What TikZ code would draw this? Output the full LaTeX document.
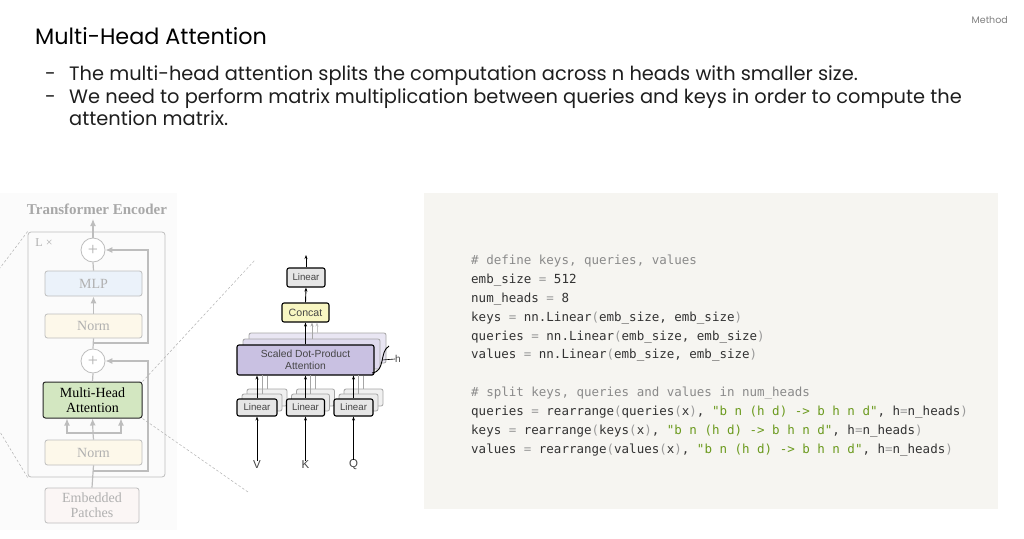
\documentclass[tikz,border=0pt]{standalone}
\usepackage{fontspec}
\usetikzlibrary{arrows.meta,calc}
\newfontfamily\pop{Poppins}
\newfontfamily\codefont{DejaVu Sans Mono}
\newfontfamily\serf{Liberation Serif}
\newfontfamily\helv{Liberation Sans}
\definecolor{encline}{HTML}{BDBDBD}
\definecolor{enctext}{HTML}{B0B0B0}
\definecolor{enctitle}{HTML}{A8A8A8}
\definecolor{encbg}{HTML}{FBFBFB}
\definecolor{mlpfill}{HTML}{EBF2FA}
\definecolor{normfill}{HTML}{FDF8EA}
\definecolor{embfill}{HTML}{FBF6F5}
\definecolor{mhafill}{HTML}{D3E7C1}
\definecolor{codebg}{HTML}{F6F5F1}
\definecolor{codetxt}{HTML}{333333}
\definecolor{codecom}{HTML}{8A8A8A}
\definecolor{codeop}{HTML}{9A9A9A}
\definecolor{codestr}{HTML}{6B9A1E}
\definecolor{linfill}{HTML}{E6E6E6}
\definecolor{concatfill}{HTML}{F8F6C2}
\definecolor{attnfill}{HTML}{C9C1E2}
\definecolor{midtxt}{HTML}{454545}
\definecolor{slidetxt}{HTML}{1E1E1E}
\newcommand\opc[1]{\textcolor{codeop}{#1}}
\newcommand\strc[1]{\textcolor{codestr}{#1}}
\tikzset{
  encbox/.style={draw=encline, line width=0.8pt, rounded corners=2.5pt, font=\serf\fontsize{14}{15}\selectfont, text=enctext, align=center, inner sep=0pt},
  encplus/.style={draw=encline, line width=0.8pt, circle, fill=white, minimum size=24pt, inner sep=0pt, font=\serf\fontsize{18}{18}\selectfont, text=enctext},
  encln/.style={draw=encline, line width=1.2pt},
  encarrow/.style={draw=encline, line width=1.2pt, -{Latex[length=7pt,width=6pt]}},
  zoomline/.style={draw=gray!60, line width=0.5pt, dash pattern=on 2.5pt off 2pt},
  midbox/.style={draw=black, line width=1.1pt, rounded corners=2pt, font=\helv\fontsize{10.3}{11.5}\selectfont, text=midtxt, align=center, inner sep=0pt},
  linfont/.style={font=\helv\fontsize{9.7}{10}\selectfont},
  midback/.style={draw=gray!70, line width=0.8pt, rounded corners=2pt, fill=white, inner sep=0pt},
  marrow/.style={draw=black, line width=0.9pt, -{Stealth[length=4pt,width=3pt]}},
  garrow/.style={draw=gray!70, line width=0.9pt, -{Stealth[length=4pt,width=3pt]}},
  gline/.style={draw=gray!70, line width=0.9pt},
  codeline/.style={anchor=base west, inner sep=0pt, font=\codefont\fontsize{12.5}{15}\selectfont, text=codetxt},
  bullettxt/.style={anchor=base west, inner sep=0pt, font=\pop\fontsize{19.4}{22}\selectfont, text=slidetxt},
}
\begin{document}
\begin{tikzpicture}[x=1pt,y=-1pt]
\useasboundingbox (0,0) rectangle (1024,538);
\fill[white] (0,0) rectangle (1024,538);
% ---------- header ----------
\node[anchor=base east, inner sep=0pt, font=\pop\fontsize{9.5}{10}\selectfont, text=gray] (method) at (1008,23) {Method};
\node[anchor=base west, inner sep=0pt, font=\pop\fontsize{22.3}{24}\selectfont, text=black] (title) at (35,44) {Multi-Head Attention};
\node[bullettxt] (d1) at (45,80) {-};
\node[bullettxt] (b1) at (69,80) {The multi-head attention splits the computation across n heads with smaller size.};
\node[bullettxt] (d2) at (45,103) {-};
\node[bullettxt] (b2) at (69,103) {We need to perform matrix multiplication between queries and keys in order to compute the};
\node[bullettxt] (b3) at (69,125) {attention matrix.};
% ---------- encoder ----------
\fill[encbg] (0,193) rectangle (177,530);
\node[font=\serf\bfseries\fontsize{15}{16}\selectfont, text=enctitle, inner sep=0pt] (enctitle) at (97,209) {Transformer Encoder};
\node[draw=encline, line width=0.8pt, rounded corners=3pt, fill=encbg, minimum width=137pt, minimum height=245pt, inner sep=0pt] (outer) at (96.5,354.5) {};
\node[font=\serf\fontsize{12}{12}\selectfont, text=enctext, inner sep=0pt] (lx) at (44,243) {L ×};
\node[encplus] (plus1) at (93,250) {+};
\node[encbox, fill=mlpfill, minimum width=97pt, minimum height=25pt] (mlp) at (93.5,283.5) {MLP};
\node[encbox, fill=normfill, minimum width=97pt, minimum height=24pt] (norm1) at (93.5,326) {Norm};
\node[encplus] (plus2) at (93,361) {+};
\node[encbox, fill=mhafill, draw=black!85, line width=1pt, text=black, minimum width=99pt, minimum height=36pt] (mha) at (92.5,400) {Multi-Head\\Attention};
\node[encbox, fill=normfill, minimum width=97pt, minimum height=25pt] (norm2) at (93.5,452.5) {Norm};
\node[encbox, fill=embfill, minimum width=94pt, minimum height=35pt] (emb) at (92,505.5) {Embedded\\Patches};
\coordinate (outtop) at (93,219);
\draw[encarrow] (plus1.north) -- (outtop);
\draw[encln] (mlp.north) -- (plus1.south);
\draw[encarrow] (norm1.north) -- (mlp.south);
\draw[encln] (plus2.north) -- (norm1.south);
\draw[encln] (mha.north) -- (plus2.south);
\draw[encln] (emb.north) -- (norm2.south);
\coordinate (r1) at (93,343);
\coordinate (r1b) at (148,343);
\coordinate (r1c) at (148,250);
\draw[encarrow] (r1) -- (r1b) -- (r1c) -- (plus1.east);
\coordinate (r2) at (93,471);
\coordinate (r2b) at (148,471);
\coordinate (r2c) at (148,361);
\draw[encarrow] (r2) -- (r2b) -- (r2c) -- (plus2.east);
\coordinate (split) at (93,433);
\coordinate (splitl) at (67,433);
\coordinate (splitr) at (121,433);
\draw[encln] (norm2.north) -- (split);
\draw[encarrow] (split) -- (mha.south);
\draw[encarrow] (split) -- (splitl) -- (splitl |- mha.south);
\draw[encarrow] (split) -- (splitr) -- (splitr |- mha.south);
% zoom lines
\coordinate (zl1) at (0,268);
\coordinate (zl2) at (0,432);
\coordinate (zr1) at (255,260);
\coordinate (zr2) at (248,492);
\draw[zoomline] (outer.north west) -- (zl1);
\draw[zoomline] (outer.south west) -- (zl2);
\draw[zoomline] (mha.north east) -- (zr1);
\draw[zoomline] (mha.south east) -- (zr2);
% ---------- multi-head diagram ----------
\node[midbox, linfont, fill=linfill, minimum width=38pt, minimum height=19pt] (lintop) at (306,277.5) {Linear};
\node[midbox, fill=concatfill, minimum width=47pt, minimum height=19pt, font=\helv\fontsize{10.6}{11}\selectfont] (concat) at (305.5,312.5) {Concat};
\node[midback, fill=attnfill!40, minimum width=137pt, minimum height=30pt] (attnb2) at (317.5,348) {};
\node[midback, fill=attnfill!60, minimum width=137pt, minimum height=30pt] (attnb1) at (311.5,354) {};
\node[midbox, fill=attnfill, minimum width=137pt, minimum height=30pt] (attn) at (305.5,360) {Scaled Dot-Product\\Attention};
\coordinate (a2) at (317,333);
\coordinate (a1) at (312,339);
\draw[garrow, draw=gray!45] (a2) -- (a2 |- concat.south);
\draw[garrow] (a1) -- (a1 |- concat.south);
\draw[marrow] (attn.north) -- (concat.south);
\draw[marrow] (concat.north) -- (lintop.south);
\coordinate (mhout) at (306,255);
\draw[marrow] (lintop.north) -- (mhout);
% h brace
\draw[black, line width=0.9pt] (372,373) .. controls (386,371) and (379,352) .. (389,346);
\coordinate (hb) at (382,360);
\node[font=\helv\fontsize{10}{10}\selectfont, text=midtxt, inner sep=0pt] (hlbl) at (398,359) {h};
\draw[black, line width=0.6pt] (hb) -- (hlbl.west);
% three linear stacks
\foreach \nm/\cx/\w/\lb in {V/257/40/V, K/305.5/38/K, Q/353.5/39/Q}{
  \node[midback, fill=linfill!60, minimum width=\w pt, minimum height=17pt] (lin\nm b2) at (\cx+10,397.5) {};
  \node[midback, fill=linfill!80, minimum width=\w pt, minimum height=17pt] (lin\nm b1) at (\cx+5,402.5) {};
  \node[midbox, linfont, fill=linfill, minimum width=\w pt, minimum height=17pt] (lin\nm) at (\cx,407.5) {Linear};
  \node[font=\helv\fontsize{11.5}{12}\selectfont, text=midtxt, inner sep=0pt] (lbl\nm) at (\cx,465) {\lb};
  \draw[gline] (lin\nm b2.north) -- ++(0,-13);
  \draw[gline] (lin\nm b1.north) -- ++(0,-18.5);
  \draw[marrow] (lin\nm.north) -- (lin\nm.north |- attn.south);
  \draw[marrow] (lbl\nm.north) -- (lin\nm.south);
}
% ---------- code panel ----------
\fill[codebg] (424,193) rectangle (998,509);
\node[codeline, text=codecom] (c1) at (471,264) {\# define keys, queries, values};
\node[codeline] (c2) at (471,283) {emb\_size \opc{=} 512};
\node[codeline] (c3) at (471,302) {num\_heads \opc{=} 8};
\node[codeline] (c4) at (471,321) {keys \opc{=} nn.Linear\opc{(}emb\_size, emb\_size\opc{)}};
\node[codeline] (c5) at (471,340) {queries \opc{=} nn.Linear\opc{(}emb\_size, emb\_size\opc{)}};
\node[codeline] (c6) at (471,358) {values \opc{=} nn.Linear\opc{(}emb\_size, emb\_size\opc{)}};
\node[codeline, text=codecom] (c7) at (471,396) {\# split keys, queries and values in num\_heads};
\node[codeline] (c8) at (471,415) {queries \opc{=} rearrange\opc{(}queries\opc{(}x\opc{)}, \strc{"b n (h d) -> b h n d"}, h\opc{=}n\_heads\opc{)}};
\node[codeline] (c9) at (471,434) {keys \opc{=} rearrange\opc{(}keys\opc{(}x\opc{)}, \strc{"b n (h d) -> b h n d"}, h\opc{=}n\_heads\opc{)}};
\node[codeline] (c10) at (471,453) {values \opc{=} rearrange\opc{(}values\opc{(}x\opc{)}, \strc{"b n (h d) -> b h n d"}, h\opc{=}n\_heads\opc{)}};
\end{tikzpicture}
\end{document}
